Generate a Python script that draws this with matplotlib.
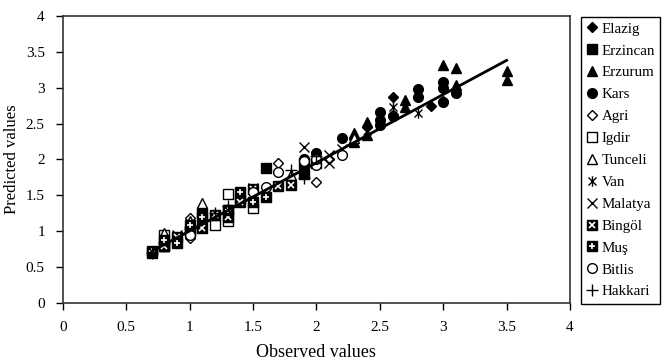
import matplotlib
matplotlib.use("Agg")
import matplotlib.pyplot as plt
from matplotlib.path import Path
from matplotlib.legend_handler import HandlerTuple

plt.rcParams['font.family'] = ['Liberation Serif', 'DejaVu Serif']

# observed / predicted values per province
elazig_x = [2.3, 2.4, 2.5, 2.6, 2.6, 2.9, 3.0]
elazig_y = [2.28, 2.45, 2.55, 2.87, 2.62, 2.75, 2.82]
erzincan_x = [0.8, 1.0, 1.1, 1.3, 1.4, 1.6, 1.9, 2.0]
erzincan_y = [0.8, 1.0, 1.26, 1.3, 1.45, 1.88, 1.8, 1.95]
erzurum_x = [1.1, 2.3, 2.3, 2.4, 2.4, 2.7, 2.7, 3.0, 3.1, 3.1, 3.5, 3.5]
erzurum_y = [1.37, 2.37, 2.25, 2.52, 2.34, 2.83, 2.73, 3.32, 3.27, 3.04, 3.23, 3.1]
kars_x = [1.9, 2.0, 2.2, 2.5, 2.5, 2.5, 2.6, 2.8, 2.8, 3.0, 3.0, 3.0, 3.1]
kars_y = [2.0, 2.09, 2.3, 2.66, 2.55, 2.48, 2.6, 2.98, 2.87, 3.08, 3.0, 2.8, 2.92]
agri_x = [1.0, 1.0, 1.7, 2.0, 2.1]
agri_y = [0.9, 1.18, 1.95, 1.68, 2.0]
igdir_x = [0.8, 0.8, 1.2, 1.3, 1.3, 1.5]
igdir_y = [0.95, 0.8, 1.09, 1.52, 1.15, 1.32]
tunceli_x = [0.8, 1.0, 1.1, 1.6, 1.8, 2.3]
tunceli_y = [0.97, 1.15, 1.4, 1.58, 1.78, 2.3]
van_x = [1.3, 1.9, 2.4, 2.6, 2.8]
van_y = [1.25, 1.9, 2.4, 2.73, 2.65]
malatya_x = [0.9, 1.1, 1.5, 1.9, 2.1, 2.1, 2.2]
malatya_y = [0.95, 1.05, 1.6, 2.17, 2.06, 1.95, 2.15]
bingol_x = [0.7, 0.8, 0.9, 1.0, 1.1, 1.2, 1.3, 1.4, 1.5, 1.7, 1.8]
bingol_y = [0.7, 0.8, 0.92, 1.0, 1.05, 1.23, 1.2, 1.41, 1.59, 1.63, 1.64]
mus_x = [0.7, 0.8, 0.9, 1.0, 1.1, 1.3, 1.4, 1.5, 1.6, 1.9]
mus_y = [0.72, 0.88, 0.84, 1.09, 1.2, 1.3, 1.55, 1.41, 1.48, 1.95]
bitlis_x = [1.0, 1.5, 1.6, 1.7, 1.9, 2.0, 2.0, 2.2]
bitlis_y = [0.95, 1.55, 1.62, 1.83, 1.98, 1.92, 2.0, 2.06]
hakkari_x = [0.7, 1.2, 1.3, 1.8, 1.9, 2.0]
hakkari_y = [0.7, 1.25, 1.35, 1.85, 1.74, 2.05]

# trend line
fit_x = [0.7, 3.5]
fit_y = [0.72, 3.38]

ticks = [0, 0.5, 1, 1.5, 2, 2.5, 3, 3.5, 4]
tick_labels = ['0', '0.5', '1', '1.5', '2', '2.5', '3', '3.5', '4']

# excel style star: X plus vertical bar
star = Path([(-1, -1), (1, 1), (-1, 1), (1, -1), (0, -1.3), (0, 1.3)],
            [Path.MOVETO, Path.LINETO, Path.MOVETO, Path.LINETO, Path.MOVETO, Path.LINETO])

fig = plt.figure(figsize=(6.69, 3.6), dpi=100)
ax = fig.add_axes([0.094, 0.158, 0.758, 0.798])

k = dict(linestyle='none', color='black')
h = []
h.append(ax.plot(elazig_x, elazig_y, marker='D', ms=5.5, **k)[0])
h.append(ax.plot(erzincan_x, erzincan_y, marker='s', ms=6.5, **k)[0])
h.append(ax.plot(erzurum_x, erzurum_y, marker='^', ms=7.5, **k)[0])
h.append(ax.plot(kars_x, kars_y, marker='o', ms=7, **k)[0])
h.append(ax.plot(agri_x, agri_y, marker='D', ms=5.5, mfc='white', mew=1, **k)[0])
h.append(ax.plot(igdir_x, igdir_y, marker='s', ms=6.5, mfc='white', mew=1, **k)[0])
h.append(ax.plot(tunceli_x, tunceli_y, marker='^', ms=7.5, mfc='white', mew=1, **k)[0])
h.append(ax.plot(van_x, van_y, marker=star, ms=7.5, mfc='none', mew=1, **k)[0])
h.append(ax.plot(malatya_x, malatya_y, marker='x', ms=7.5, mew=1, **k)[0])
b1 = ax.plot(bingol_x, bingol_y, marker='s', ms=7.5, **k)[0]
b2 = ax.plot(bingol_x, bingol_y, marker='x', ms=4.5, mew=1.2, linestyle='none', color='white')[0]
h.append((b1, b2))
m1 = ax.plot(mus_x, mus_y, marker='s', ms=7.5, **k)[0]
m2 = ax.plot(mus_x, mus_y, marker='+', ms=5, mew=1.2, linestyle='none', color='white')[0]
h.append((m1, m2))
h.append(ax.plot(bitlis_x, bitlis_y, marker='o', ms=7, mfc='white', mew=1, **k)[0])
h.append(ax.plot(hakkari_x, hakkari_y, marker='+', ms=8.5, mew=1, **k)[0])

ax.plot(fit_x, fit_y, color='black', lw=2, zorder=5)

names = ['Elazig', 'Erzincan', 'Erzurum', 'Kars', 'Agri', 'Igdir', 'Tunceli',
         'Van', 'Malatya', 'Bingöl', 'Muş', 'Bitlis', 'Hakkari']

ax.set_xlim(0, 4)
ax.set_ylim(0, 4)
ax.set_xticks(ticks)
ax.set_xticklabels(tick_labels)
ax.set_yticks(ticks)
ax.set_yticklabels(tick_labels)
ax.tick_params(direction='out', length=5, width=1, labelsize=11, pad=8)
for s in ax.spines.values():
    s.set_color('#333333')
    s.set_linewidth(1.2)
ax.set_xlabel('Observed values', fontsize=13, labelpad=7)
ax.set_ylabel('Predicted values', fontsize=12, labelpad=4)

leg = fig.legend(h, names, loc='upper left', bbox_to_anchor=(0.868, 0.953),
                 fontsize=10.8, labelspacing=0.56, handlelength=0.8,
                 handletextpad=0.25, borderpad=0.35, borderaxespad=0,
                 fancybox=False, edgecolor='black', framealpha=1,
                 handler_map={tuple: HandlerTuple(ndivide=1)})
leg.get_frame().set_linewidth(1)

fig.savefig('out.png', dpi=100)
